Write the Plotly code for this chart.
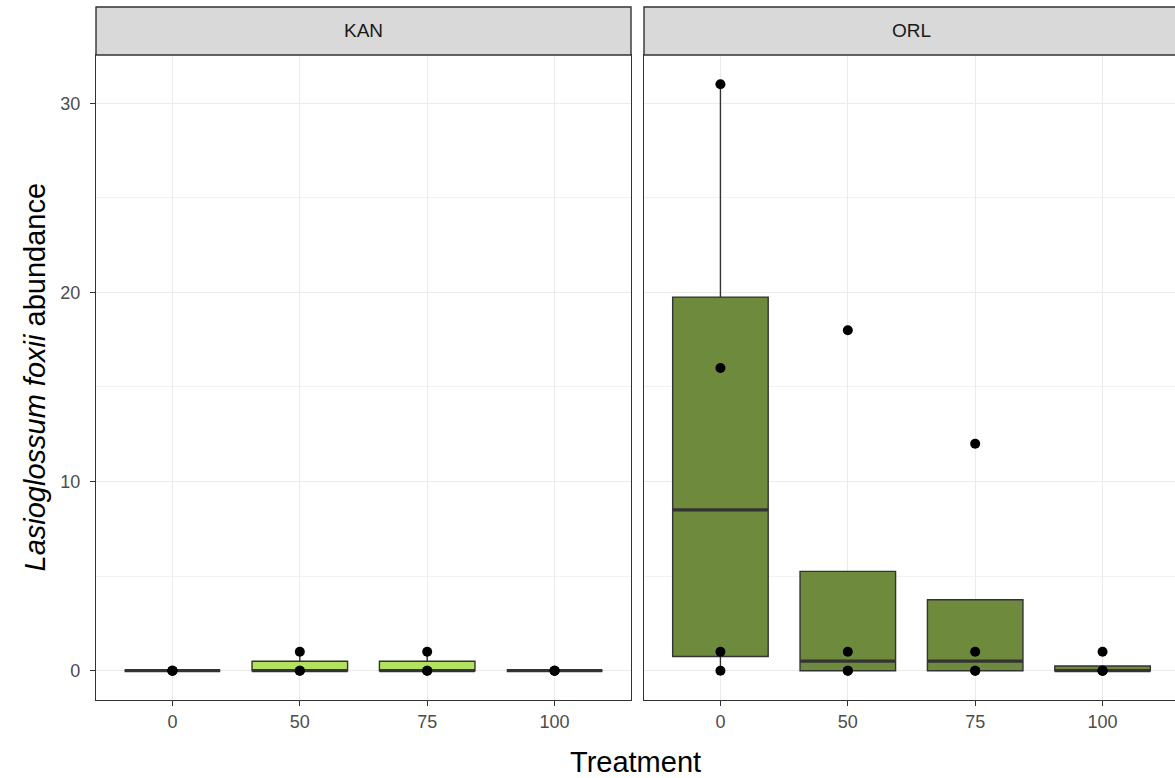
import numpy as np
import plotly.graph_objects as go

# ---- data ----
categories = ["0", "50", "75", "100"]
sites = ["KAN", "ORL"]
kan_values = {
    "0": [0, 0, 0],
    "50": [0, 0, 1],
    "75": [0, 0, 1],
    "100": [0, 0, 0],
}
orl_values = {
    "0": [0, 1, 16, 31],
    "50": [0, 0, 1, 18],
    "75": [0, 0, 1, 12],
    "100": [0, 0, 0, 1],
}
site_colors = {"KAN": "#B3E35E", "ORL": "#6E8B3D"}
y_ticks = [0, 10, 20, 30]

# ---- layout geometry ----
W, H = 1175, 778
ML, MR, MT, MB = 96, 0, 7, 78
pw = W - ML - MR
ph = H - MT - MB
p1 = (96, 631)
p2 = (644, 1175)
x_dom1 = [(p1[0] - ML) / pw, (p1[1] - ML) / pw]
x_dom2 = [(p2[0] - ML) / pw, (p2[1] - ML) / pw]
panel_top = 55
panel_bot = 700
y_dom = [0, (panel_bot - panel_top) / ph]
px_per_unit = (p1[1] - p1[0]) / 4.2
x_range1 = [0.4, 4.6]
x_range2 = [0.4, 0.4 + (p2[1] - p2[0]) / px_per_unit]
y_range = [-1.55, 32.55]

BOXW = 0.75
LINE = "#333333"

fig = go.Figure()


def stats(vals):
    v = np.array(vals, dtype=float)
    q1, med, q3 = np.percentile(v, [25, 50, 75])
    iqr = q3 - q1
    lo = v[v >= q1 - 1.5 * iqr].min()
    hi = v[v <= q3 + 1.5 * iqr].max()
    return q1, med, q3, lo, hi


for si, (site, data) in enumerate([("KAN", kan_values), ("ORL", orl_values)]):
    xa = "x" if si == 0 else "x2"
    ya = "y" if si == 0 else "y2"
    for ci, cat in enumerate(categories):
        q1, med, q3, lo, hi = stats(data[cat])
        xpos = ci + 1
        fig.add_trace(go.Box(
            x=[xpos], q1=[q1], median=[med], q3=[q3],
            lowerfence=[lo], upperfence=[hi],
            width=BOXW, whiskerwidth=0,
            fillcolor=site_colors[site],
            line=dict(color=LINE, width=1.4),
            boxpoints=False, hoverinfo="skip",
            xaxis=xa, yaxis=ya, showlegend=False,
        ))
        # thicker median line (ggplot fatten)
        fig.add_trace(go.Scatter(
            x=[xpos - BOXW / 2, xpos + BOXW / 2], y=[med, med],
            mode="lines", line=dict(color=LINE, width=3.2),
            xaxis=xa, yaxis=ya, showlegend=False, hoverinfo="skip",
        ))
        fig.add_trace(go.Scatter(
            x=[xpos] * len(data[cat]), y=data[cat],
            mode="markers", marker=dict(color="black", size=10),
            xaxis=xa, yaxis=ya, showlegend=False, hoverinfo="skip",
        ))

FONT = "Liberation Sans, Arial, sans-serif"
tickfont = dict(family=FONT, size=18, color="#4d4d4d")
common_x = dict(
    tickmode="array", tickvals=[1, 2, 3, 4], ticktext=categories,
    showgrid=True, gridcolor="#ebebeb", gridwidth=1.2,
    zeroline=False, showline=True, linecolor=LINE, linewidth=1.4,
    ticks="outside", ticklen=5, tickcolor=LINE, tickwidth=1.2,
    tickfont=tickfont, fixedrange=True, ticklabelstandoff=0,
)
common_y = dict(
    range=y_range, domain=y_dom,
    tickmode="array", tickvals=y_ticks,
    showgrid=True, gridcolor="#ebebeb", gridwidth=1.2,
    minor=dict(tickvals=[5, 15, 25], showgrid=True, gridcolor="#f2f2f2", gridwidth=0.8),
    zeroline=False, showline=True, linecolor=LINE, linewidth=1.4,
    tickfont=tickfont,
)

fig.update_layout(
    width=W, height=H,
    margin=dict(l=ML, r=MR, t=MT, b=MB),
    paper_bgcolor="white", plot_bgcolor="white",
    showlegend=False,
    xaxis=dict(common_x, domain=x_dom1, range=x_range1, anchor="y", mirror=True),
    xaxis2=dict(common_x, domain=x_dom2, range=x_range2, anchor="y2", mirror=True),
    yaxis=dict(common_y, anchor="x", ticks="outside", ticklen=5, tickcolor=LINE,
               tickwidth=1.2, mirror=True, ticklabelstandoff=6),
    yaxis2=dict(common_y, anchor="x2", matches="y", showticklabels=False, ticks="",
                mirror=False),
)

# strips
strip_y0 = y_dom[1]
strip_y1 = 1.0
panel_w = x_dom1[1] - x_dom1[0]
for dom, site in [(x_dom1, "KAN"), (x_dom2, "ORL")]:
    fig.add_shape(type="rect", xref="paper", yref="paper",
                  x0=dom[0], x1=dom[1] + (0.02 if site == "ORL" else 0),
                  y0=strip_y0, y1=strip_y1,
                  fillcolor="#d9d9d9", line=dict(color=LINE, width=1.4), layer="above")
    fig.add_annotation(xref="paper", yref="paper",
                       x=dom[0] + panel_w / 2,
                       y=(strip_y0 + strip_y1) / 2,
                       xanchor="center", yanchor="middle",
                       text=site, showarrow=False,
                       font=dict(family=FONT, size=19, color="#1a1a1a"))

# axis titles
fig.add_annotation(xref="paper", yref="paper", x=0.5, y=-(762 - panel_bot) / ph,
                   xanchor="center", yanchor="middle", text="Treatment", showarrow=False,
                   font=dict(family=FONT, size=29, color="black"))
fig.add_annotation(xref="paper", yref="paper", x=-(ML - 35) / pw, y=0.5 * y_dom[1],
                   xanchor="center", yanchor="middle", textangle=-90,
                   text="<i>Lasioglossum foxii</i> abundance", showarrow=False,
                   font=dict(family=FONT, size=29, color="black"))

fig.write_html("out.html")
